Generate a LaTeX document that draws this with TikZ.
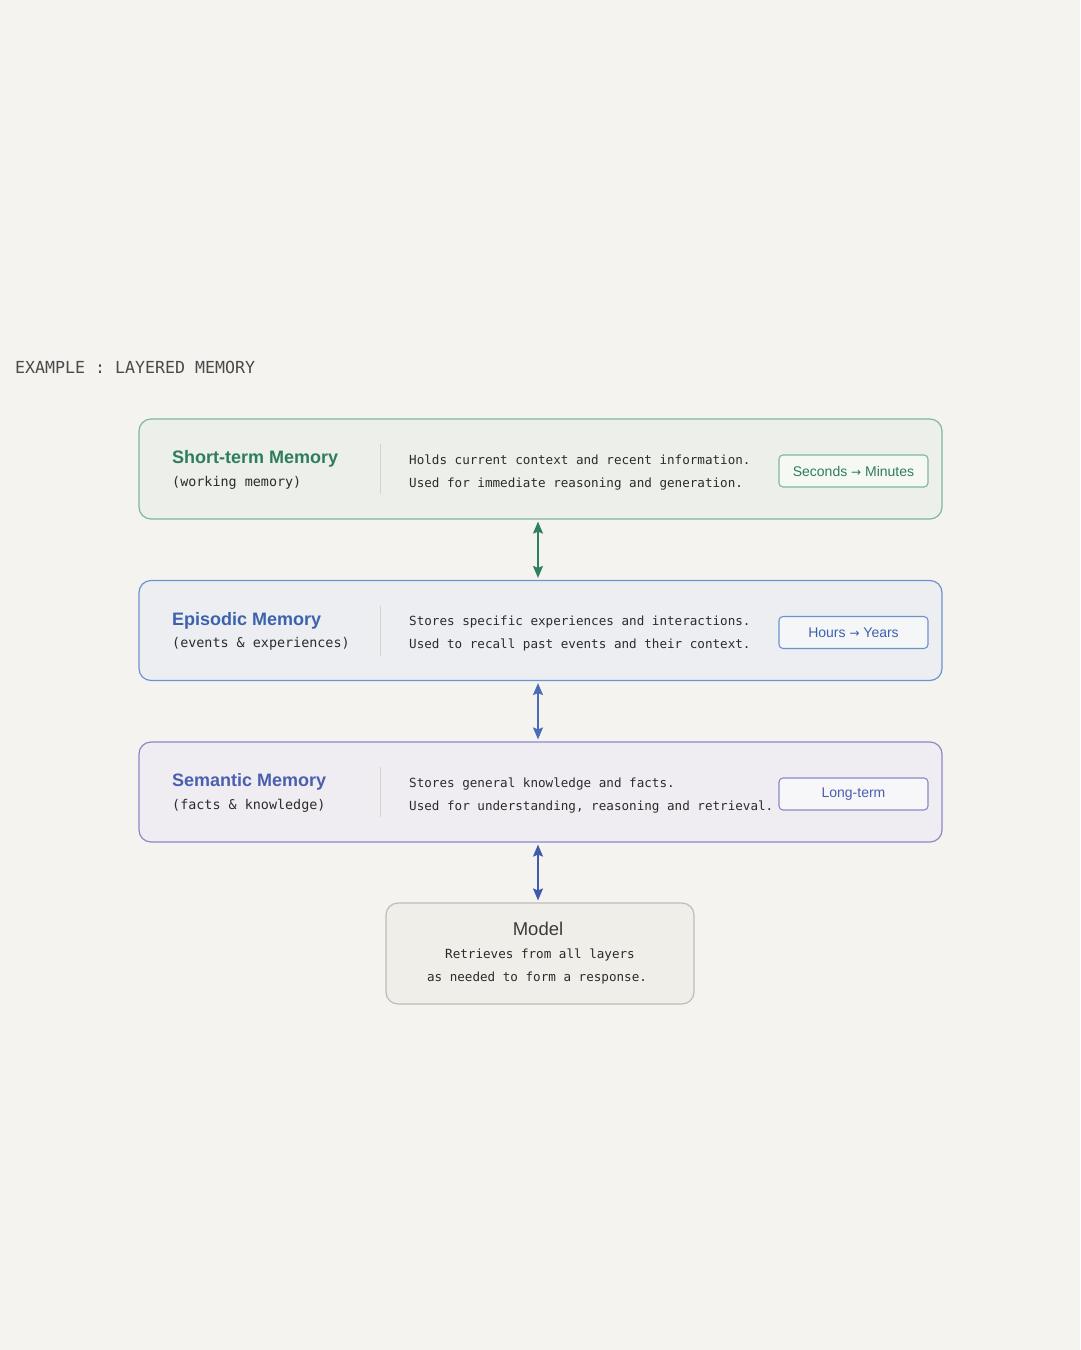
\documentclass[tikz,border=0pt]{standalone}
\usepackage{fontspec}
\setsansfont{Liberation Sans}
\setmonofont{DejaVu Sans Mono}
\newfontfamily\arrowfont{DejaVu Sans}
\usepackage{tikz}
\usetikzlibrary{positioning,arrows.meta}
\definecolor{paper}{HTML}{F5F3EF}
\definecolor{ink}{HTML}{2B2B2B}
\definecolor{headgray}{HTML}{4A4A4A}
\definecolor{divgray}{HTML}{D6D3CD}
\definecolor{linegrn}{HTML}{7DB89D}
\definecolor{fillgrn}{HTML}{EDF0EA}
\definecolor{textgrn}{HTML}{2E7D5B}
\definecolor{arrowgrn}{HTML}{2E8062}
\definecolor{lineblu}{HTML}{6C93D0}
\definecolor{fillblu}{HTML}{ECEEF2}
\definecolor{textblu}{HTML}{3C62AD}
\definecolor{arrowblu}{HTML}{4A6CB8}
\definecolor{lineprp}{HTML}{8C88C8}
\definecolor{fillprp}{HTML}{EFEDF2}
\definecolor{textprp}{HTML}{4B5FB0}
\definecolor{arrowprp}{HTML}{3F5BAA}
\definecolor{modelline}{HTML}{BFBCB6}
\definecolor{modelfill}{HTML}{F0EEE9}
\definecolor{modeltext}{HTML}{3A3A3A}
\newcommand{\tagarrow}{{\arrowfont\fontsize{12}{14}\selectfont →}}

\begin{document}
\begin{tikzpicture}[x=1pt,y=-1pt,
    layer/.style={draw,rounded corners=12pt,line width=1.2pt,minimum width=803pt,minimum height=100pt,inner sep=0pt},
    tag/.style={draw,rounded corners=4pt,line width=1.1pt,minimum width=149pt,minimum height=32pt,inner sep=0pt,font=\sffamily\fontsize{14}{16}\selectfont},
    mono/.style={anchor=base west,inner sep=0pt,font=\ttfamily\fontsize{12.6}{15}\selectfont,text=ink},
    link/.style={arrows={Stealth[length=12pt,width=10pt,inset=2pt]-Stealth[length=12pt,width=10pt,inset=2pt]},line width=1.5pt,shorten <=2pt,shorten >=2pt}]
  \useasboundingbox (0,0) rectangle (1080,1350);
  \fill[paper] (0,0) rectangle (1080,1350);
  \node[anchor=base west,inner sep=0pt,font=\ttfamily\fontsize{16.6}{20}\selectfont,text=headgray] (head) at (15,373) {EXAMPLE : LAYERED MEMORY};
  % the three memory layers
  \foreach \n/\y/\c/\t/\s/\la/\lb/\g in {
      short/469/grn/{Short-term Memory}/{(working memory)}/{Holds current context and recent information.}/{Used for immediate reasoning and generation.}/{Seconds \tagarrow{} Minutes},
      epis/630.5/blu/{Episodic Memory}/{(events \& experiences)}/{Stores specific experiences and interactions.}/{Used to recall past events and their context.}/{Hours \tagarrow{} Years},
      sem/792/prp/{Semantic Memory}/{(facts \& knowledge)}/{Stores general knowledge and facts.}/{Used for understanding, reasoning and retrieval.}/{Long-term}}{
    \node[layer,draw=line\c,fill=fill\c] (\n) at (540.5,\y) {};
    \node[anchor=base west,inner sep=0pt,font=\sffamily\bfseries\fontsize{18}{20}\selectfont,text=text\c] (\n-title) at (172,\y-5.5) {\t};
    \node[anchor=base west,inner sep=0pt,font=\ttfamily\fontsize{13.4}{16}\selectfont,text=ink] (\n-sub) at (172,\y+17) {\s};
    \draw[divgray,line width=1pt] (380,\y-25)--(380,\y+25);
    \node[mono] (\n-a) at (409,\y-5) {\la};
    \node[mono] (\n-b) at (409,\y+18) {\lb};
    \node[tag,draw=line\c,fill=fill\c!50!white,text=text\c] (\n-tag) at (853.5,\y+2) {\g};
  }
  % model
  \node[draw=modelline,fill=modelfill,rounded corners=12pt,line width=1.2pt,minimum width=308pt,minimum height=101pt] (model) at (540,953.5) {};
  \node[anchor=base,font=\sffamily\fontsize{18.5}{20}\selectfont,text=modeltext] (model-title) at (538,935) {Model};
  \node[mono,anchor=base] (model-a) at (540,958) {Retrieves from all layers};
  \node[mono,anchor=base] (model-b) at (537,981) {as needed to form a response.};
  \foreach \a/\b/\c in {short/epis/grn,epis/sem/blu,sem/model/prp}{
    \draw[link,arrow\c] ([xshift=-2.5pt]\a.south)--([xshift=-2.5pt]\a.south|-\b.north);
  }
\end{tikzpicture}
\end{document}
